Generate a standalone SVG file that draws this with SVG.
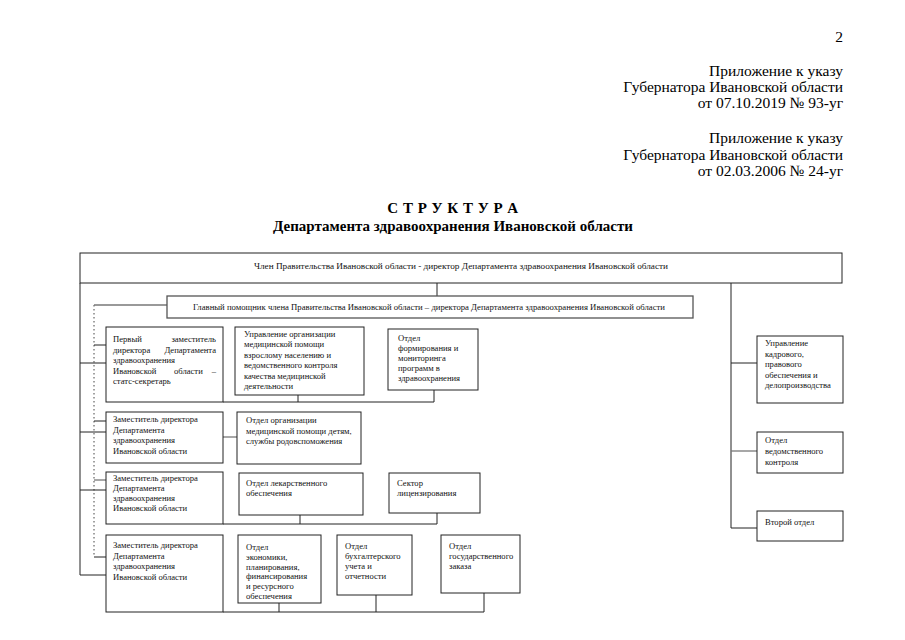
<svg xmlns="http://www.w3.org/2000/svg" width="905" height="640" viewBox="0 0 905 640">
<style>
.bg{fill:#fff}
.hdr{font-family:"Liberation Serif","Times New Roman",serif;font-size:15.5px;fill:#000;text-anchor:end}
.ttl{font-family:"Liberation Serif","Times New Roman",serif;font-size:15px;font-weight:bold;fill:#000;text-anchor:middle}
.box{fill:#fff;stroke:#222;stroke-width:1}
.gbox{fill:#fff;stroke:#555;stroke-width:1.3}
.t{font-family:"Liberation Serif","Times New Roman",serif;font-size:8.6px;fill:#111}
.e{text-anchor:end}
.m{text-anchor:middle}
.ln{stroke:#222;stroke-width:1;fill:none}
.gl{stroke:#777;stroke-width:1.3;fill:none}
.dot{stroke:#444;stroke-width:1;stroke-dasharray:1.5 2.5;fill:none}
</style>
<rect class="bg" x="0" y="0" width="905" height="640"/>

<g id="header">
<text class="hdr" x="843" y="42">2</text>
<text class="hdr" x="843" y="76">Приложение к указу</text>
<text class="hdr" x="843" y="92">Губернатора Ивановской области</text>
<text class="hdr" x="843" y="108">от 07.10.2019 № 93-уг</text>
<text class="hdr" x="843" y="143">Приложение к указу</text>
<text class="hdr" x="843" y="160">Губернатора Ивановской области</text>
<text class="hdr" x="843" y="176">от 02.03.2006 № 24-уг</text>
<text class="ttl" x="453" y="213" letter-spacing="0.5">С Т Р У К Т У Р А</text>
<text class="ttl" x="453" y="231">Департамента здравоохранения Ивановской области</text>
</g>

<g id="connectors">
<line class="ln" x1="437" y1="283" x2="437" y2="296"/>
<polyline class="ln" points="80,283 80,575"/>
<line class="ln" x1="731" y1="283" x2="731" y2="528"/>
<line class="dot" x1="94" y1="305" x2="94" y2="557"/>
<line class="gl" x1="94" y1="305" x2="167" y2="305"/>
<line class="ln" x1="94" y1="345" x2="106" y2="345"/>
<line class="ln" x1="94" y1="421" x2="106" y2="421"/>
<line class="gl" x1="94" y1="480" x2="106" y2="480"/>
<line class="ln" x1="94" y1="557" x2="106" y2="557"/>
<line class="ln" x1="80" y1="363" x2="106" y2="363"/>
<line class="ln" x1="80" y1="432" x2="106" y2="432"/>
<line class="ln" x1="80" y1="490" x2="106" y2="490"/>
<line class="ln" x1="80" y1="575" x2="106" y2="575"/>
<polyline class="ln" points="223,402 434,402 434,390"/>
<line class="ln" x1="298" y1="395" x2="298" y2="402"/>
<line class="gl" x1="223" y1="437" x2="237" y2="437"/>
<polyline class="ln" points="223,524 437,524 437,513"/>
<line class="ln" x1="300" y1="515" x2="300" y2="524"/>
<polyline class="ln" points="223,612 484,612 484,593"/>
<line class="ln" x1="279" y1="603" x2="279" y2="612"/>
<line class="ln" x1="376" y1="595" x2="376" y2="612"/>
<line class="ln" x1="731" y1="363" x2="757" y2="363"/>
<line class="gl" x1="731" y1="451" x2="757" y2="451"/>
<line class="ln" x1="731" y1="528" x2="757" y2="528"/>
</g>

<g id="n-head">
<rect class="box" x="80" y="253" width="762" height="30"/>
<text class="t m" x="461" y="269" textLength="414" lengthAdjust="spacingAndGlyphs">Член Правительства Ивановской области - директор Департамента здравоохранения Ивановской области</text>
</g>

<g id="n-assistant">
<rect class="gbox" x="167" y="296" width="526" height="22"/>
<text class="t m" x="429" y="310" textLength="472" lengthAdjust="spacingAndGlyphs">Главный помощник члена Правительства Ивановской области – директора Департамента здравоохранения Ивановской области</text>
</g>

<g id="n-first-deputy">
<rect class="box" x="106" y="327" width="117" height="75"/>
<text class="t" x="113" y="342">Первый</text><text class="t e" x="216" y="342">заместитель</text>
<text class="t" x="113" y="352.5">директора</text><text class="t e" x="216" y="352.5">Департамента</text>
<text class="t" x="113" y="363">здравоохранения</text>
<text class="t" x="113" y="373.5">Ивановской</text><text class="t" x="174" y="373.5">области</text><text class="t e" x="216" y="373.5">–</text>
<text class="t" x="113" y="384">статс-секретарь</text>
</g>

<g id="n-adult-care">
<rect class="box" x="235" y="327" width="129" height="68"/>
<text class="t" x="244" y="337">Управление организации</text>
<text class="t" x="244" y="347.4">медицинской помощи</text>
<text class="t" x="244" y="357.8">взрослому населению и</text>
<text class="t" x="244" y="368.2">ведомственного контроля</text>
<text class="t" x="244" y="378.6">качества медицинской</text>
<text class="t" x="244" y="389">деятельности</text>
</g>

<g id="n-monitoring">
<rect class="box" x="388" y="329" width="90" height="61"/>
<text class="t" x="398" y="341">Отдел</text>
<text class="t" x="398" y="351">формирования и</text>
<text class="t" x="398" y="361">мониторинга</text>
<text class="t" x="398" y="371">программ в</text>
<text class="t" x="398" y="381">здравоохранения</text>
</g>

<g id="n-deputy-2">
<rect class="box" x="106" y="412" width="117" height="51"/>
<text class="t" x="113" y="422">Заместитель директора</text>
<text class="t" x="113" y="432.5">Департамента</text>
<text class="t" x="113" y="443">здравоохранения</text>
<text class="t" x="113" y="453.5">Ивановской области</text>
</g>

<g id="n-children">
<rect class="box" x="237" y="412" width="124" height="52"/>
<text class="t" x="246" y="423">Отдел организации</text>
<text class="t" x="246" y="433.5">медицинской помощи детям,</text>
<text class="t" x="246" y="444">службы родовспоможения</text>
</g>

<g id="n-deputy-3">
<rect class="box" x="106" y="472" width="117" height="52"/>
<text class="t" x="113" y="481">Заместитель директора</text>
<text class="t" x="113" y="491">Департамента</text>
<text class="t" x="113" y="501">здравоохранения</text>
<text class="t" x="113" y="511">Ивановской области</text>
</g>

<g id="n-drugs">
<rect class="box" x="239" y="473" width="124" height="42"/>
<text class="t" x="246" y="486">Отдел лекарственного</text>
<text class="t" x="246" y="496">обеспечения</text>
</g>

<g id="n-licensing">
<rect class="box" x="389" y="473" width="91" height="40"/>
<text class="t" x="397" y="486">Сектор</text>
<text class="t" x="397" y="496">лицензирования</text>
</g>

<g id="n-deputy-4">
<rect class="box" x="106" y="535" width="117" height="77"/>
<text class="t" x="113" y="548">Заместитель директора</text>
<text class="t" x="113" y="558.5">Департамента</text>
<text class="t" x="113" y="569">здравоохранения</text>
<text class="t" x="113" y="579.5">Ивановской области</text>
</g>

<g id="n-economy">
<rect class="box" x="238" y="535" width="83" height="68"/>
<text class="t" x="246" y="550">Отдел</text>
<text class="t" x="246" y="559.8">экономики,</text>
<text class="t" x="246" y="569.6">планирования,</text>
<text class="t" x="246" y="579.4">финансирования</text>
<text class="t" x="246" y="589.2">и ресурсного</text>
<text class="t" x="246" y="599">обеспечения</text>
</g>

<g id="n-accounting">
<rect class="box" x="337" y="535" width="75" height="60"/>
<text class="t" x="345" y="549">Отдел</text>
<text class="t" x="345" y="559">бухгалтерского</text>
<text class="t" x="345" y="569">учета и</text>
<text class="t" x="345" y="579">отчетности</text>
</g>

<g id="n-procurement">
<rect class="box" x="441" y="535" width="79" height="58"/>
<text class="t" x="449" y="549">Отдел</text>
<text class="t" x="449" y="559">государственного</text>
<text class="t" x="449" y="569">заказа</text>
</g>

<g id="n-hr">
<rect class="box" x="757" y="336" width="86" height="67"/>
<text class="t" x="765" y="346">Управление</text>
<text class="t" x="765" y="356.5">кадрового,</text>
<text class="t" x="765" y="367">правового</text>
<text class="t" x="765" y="377.5">обеспечения и</text>
<text class="t" x="765" y="388">делопроизводства</text>
</g>

<g id="n-control">
<rect class="box" x="757" y="432" width="86" height="41"/>
<text class="t" x="765" y="443">Отдел</text>
<text class="t" x="765" y="454">ведомственного</text>
<text class="t" x="765" y="465">контроля</text>
</g>

<g id="n-second">
<rect class="box" x="757" y="511" width="86" height="30"/>
<text class="t" x="765" y="525">Второй отдел</text>
</g>
</svg>
